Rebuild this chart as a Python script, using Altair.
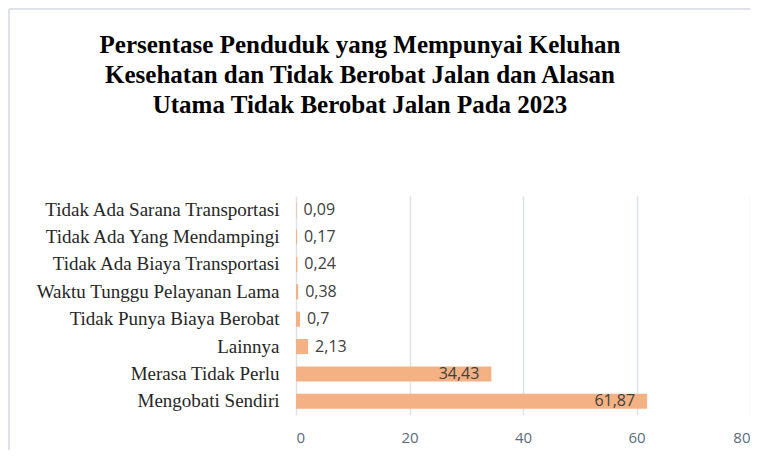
import altair as alt
import pandas as pd

categories = [
    "Tidak Ada Sarana Transportasi",
    "Tidak Ada Yang Mendampingi",
    "Tidak Ada Biaya Transportasi",
    "Waktu Tunggu Pelayanan Lama",
    "Tidak Punya Biaya Berobat",
    "Lainnya",
    "Merasa Tidak Perlu",
    "Mengobati Sendiri",
]
values = [0.09, 0.17, 0.24, 0.38, 0.7, 2.13, 34.43, 61.87]
x_ticks = [0, 20, 40, 60, 80]

title_lines = [
    "Persentase Penduduk yang Mempunyai Keluhan",
    "Kesehatan dan Tidak Berobat Jalan dan Alasan",
    "Utama Tidak Berobat Jalan Pada 2023",
]

df = pd.DataFrame({"kategori": categories, "nilai": values})

W, H = 454, 219
BAR = "#F4B183"
GRID = "#DDE2E9"

base = alt.Chart(df).transform_calculate(
    label="replace(toString(datum.nilai), '.', ',')"
)

y_enc = alt.Y(
    "kategori:N",
    sort=categories,
    scale=alt.Scale(paddingInner=0.45, paddingOuter=0.225),
    axis=alt.Axis(
        title=None,
        domain=False,
        ticks=False,
        grid=False,
        labelFont="Liberation Serif",
        labelFontSize=19,
        labelColor="#262626",
        labelPadding=17,
        labelLimit=400,
    ),
)

x_enc = alt.X(
    "nilai:Q",
    scale=alt.Scale(domain=[0, 80], nice=False),
    axis=alt.Axis(
        title=None,
        values=x_ticks,
        domain=False,
        ticks=False,
        grid=True,
        gridColor=GRID,
        gridWidth=1.5,
        labelFont="Open Sans",
        labelFontSize=15,
        labelColor="#5B6B80",
        labelPadding=15,
    ),
)

bars = base.mark_bar(color=BAR).encode(x=x_enc, y=y_enc)

text_out = base.transform_filter("datum.nilai < 10").mark_text(
    align="left", baseline="middle", dx=7, font="Open Sans", fontSize=16, color="#404040"
).encode(x="nilai:Q", y=alt.Y("kategori:N", sort=categories), text="label:N")

text_in = base.transform_filter("datum.nilai >= 10").mark_text(
    align="right", baseline="middle", dx=-12, font="Open Sans", fontSize=16, color="#404040"
).encode(x="nilai:Q", y=alt.Y("kategori:N", sort=categories), text="label:N")

frame_df = pd.DataFrame({"k": [0]})
frame_left = alt.Chart(frame_df).mark_rule(color="#DEE2E8", strokeWidth=2).encode(
    x=alt.value(-287), y=alt.value(-187), y2=alt.value(270)
)
frame_top = alt.Chart(frame_df).mark_rule(color="#DEE2E8", strokeWidth=2).encode(
    x=alt.value(-287), x2=alt.value(470), y=alt.value(-187)
)

chart = (
    alt.layer(frame_left, frame_top, bars, text_out, text_in)
    .properties(
        width=W,
        height=H,
        padding={"left": 288, "top": 188, "right": 0, "bottom": 35},
        autosize=alt.AutoSizeParams(type="none"),
        title=alt.TitleParams(
            text=title_lines,
            font="Liberation Serif",
            fontSize=25,
            fontWeight="bold",
            color="#000000",
            anchor="middle",
            frame="group",
            lineHeight=30,
            dx=-163,
            dy=110,
            offset=0,
        ),
    )
    .configure_view(stroke=None)
)

chart.save("out.html", embed_options={"renderer": "svg", "actions": False})
